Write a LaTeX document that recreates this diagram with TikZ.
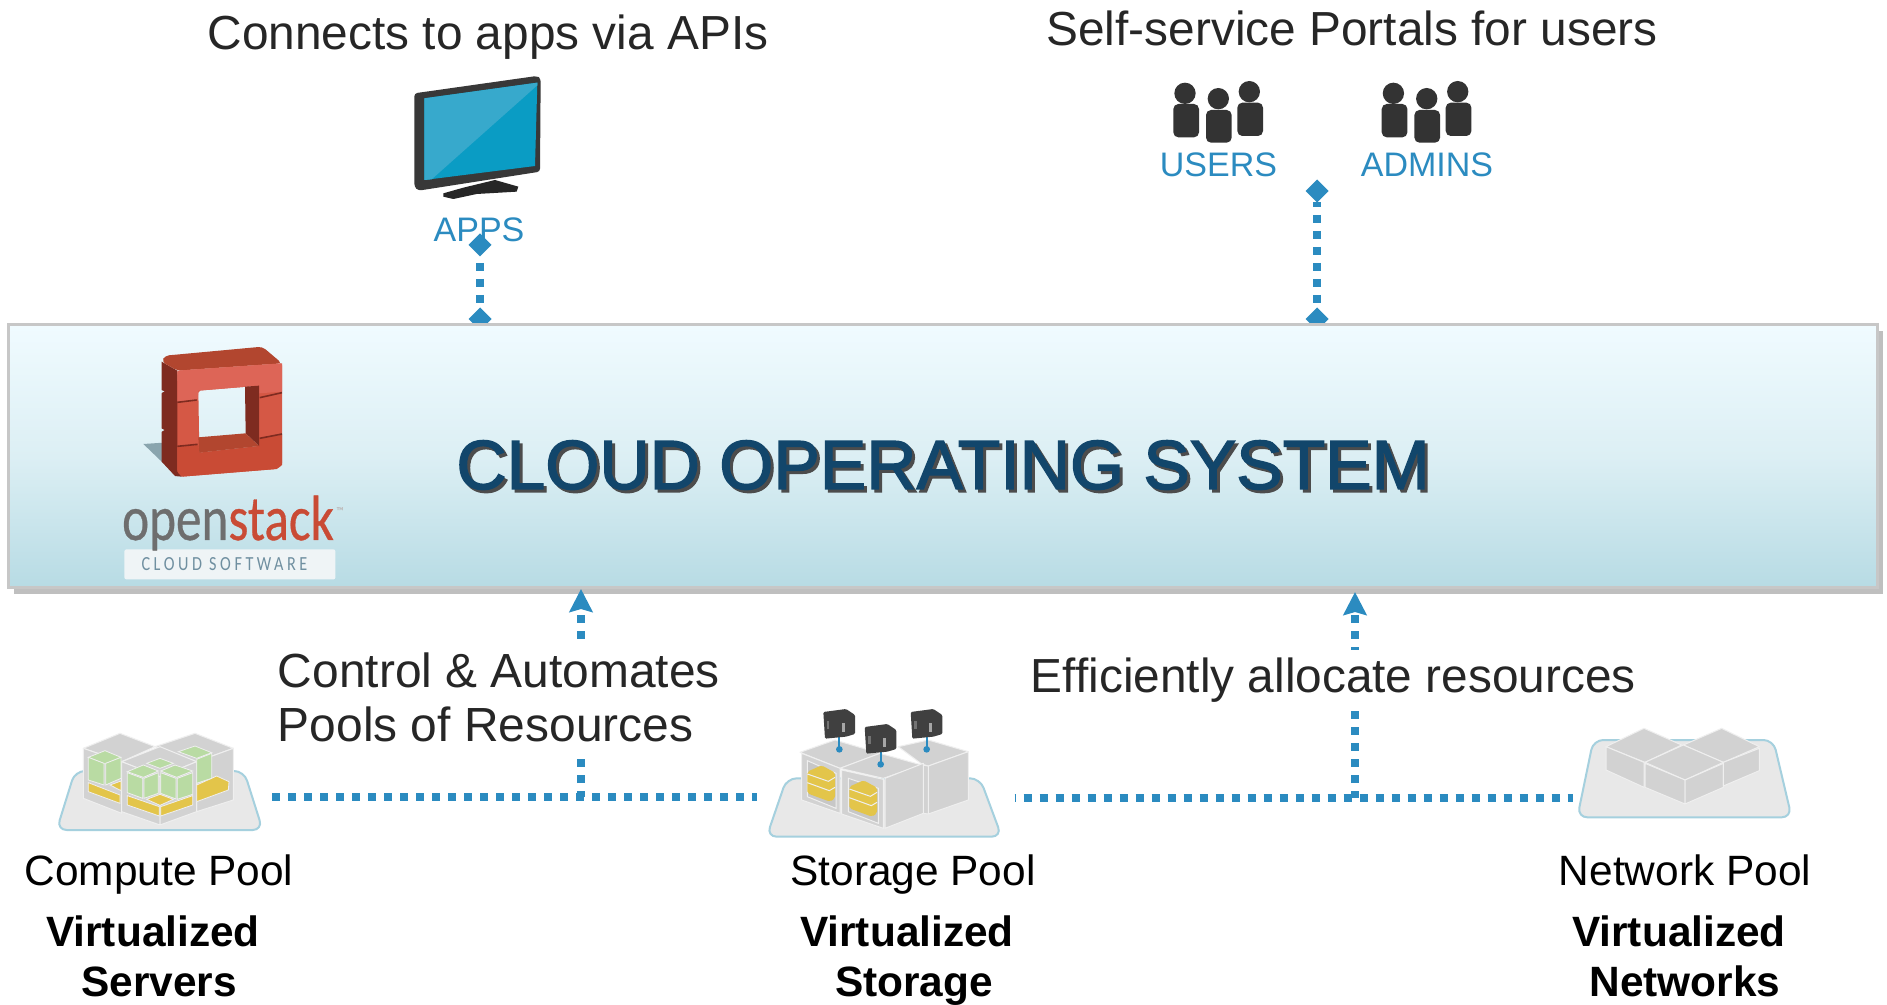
\documentclass[tikz,border=0pt]{standalone}
\usepackage{fontspec}
\setmainfont{Liberation Sans}
\newfontfamily\logofont[FakeBold=.6]{Carlito}
\newfontfamily\logospaced[LetterSpace=22]{Carlito}
\newfontfamily\titlefont[FakeBold=2]{Liberation Sans}
\usetikzlibrary{arrows.meta,shapes.geometric}
\pgfdeclarelayer{back}
\pgfsetlayers{back,main}
\definecolor{linkblue}{HTML}{2B8BC0}
\definecolor{inktext}{HTML}{262626}
\definecolor{titleblue}{HTML}{12466B}
\definecolor{cubegray}{HTML}{D2D2D2}
\definecolor{cubeedge}{HTML}{EFEFEF}
\definecolor{cubegreen}{HTML}{B9DBA3}
\definecolor{cubeyellow}{HTML}{E3C54A}
\definecolor{osdark}{HTML}{7E2B20}
\definecolor{osmid}{HTML}{B2462F}
\definecolor{osface}{HTML}{D55845}
\definecolor{oslight}{HTML}{DD6557}
\definecolor{oslow}{HTML}{C94B35}
\definecolor{paneltop}{HTML}{F0FBFF}
\definecolor{panelmid}{HTML}{DCEFF4}
\definecolor{panelbot}{HTML}{B7DBE4}
\definecolor{scrA}{HTML}{37A9CC}
\definecolor{scrB}{HTML}{0A9CC4}
\definecolor{logoshadow}{HTML}{8AA5AE}
\definecolor{chipfill}{HTML}{EFF4F6}
\definecolor{chiptext}{HTML}{6F8FA0}
\definecolor{opengray}{HTML}{6E6E6E}
\definecolor{platedge}{HTML}{A5D0DE}
\tikzset{
  zoomed/.style={x=0.16667pt,y=-0.16667pt},
  bigtext/.style={font=\fontsize{23.9}{27}\selectfont,text=inktext,inner sep=0pt},
  pooltext/.style={font=\fontsize{21.2}{25}\selectfont,text=black,anchor=base,inner sep=0pt},
  poolbold/.style={font=\fontsize{21.2}{25}\selectfont\bfseries,text=black,anchor=base,inner sep=0pt},
  bluetext/.style={font=\fontsize{17}{20}\selectfont,text=linkblue,anchor=base,inner sep=0pt},
  jointdiamond/.style={diamond,fill=linkblue,inner sep=0pt,outer sep=0pt,minimum width=11.5pt,minimum height=11.5pt},
  dotsv/.style={draw=linkblue,line width=4pt,dash pattern=on 4pt off 4pt},
  dotsa/.style={draw=linkblue,line width=3.75pt,dash pattern=on 3.75pt off 4.25pt},
  dotsb/.style={draw=linkblue,line width=3.6pt,dash pattern=on 4pt off 4pt},
  uptip/.style={-{Stealth[length=11.5pt,width=11.5pt,inset=1.5pt,color=linkblue]}},
  platform/.style={fill=black!9,draw=platedge,line width=1pt,rounded corners=5pt},
  cubeface/.style={fill=cubegray,draw=cubeedge,line width=.5pt,line join=round},
  greenface/.style={fill=cubegreen,draw=cubeedge,line width=.4pt},
  yellowface/.style={fill=cubeyellow,draw=cubeedge,line width=.4pt},
  people/.pic={
    \fill[black!80] (195,100) circle (32);
    \fill[black!80,rounded corners=2.5pt] (160,132) rectangle (237,232);
    \fill[black!80] (295,116) circle (32);
    \fill[black!80,rounded corners=2.5pt] (258,150) rectangle (335,248);
    \fill[black!80] (388,95) circle (32);
    \fill[black!80,rounded corners=2.5pt] (352,128) rectangle (429,228);
  }
}
\begin{document}
\begin{tikzpicture}[x=0.5pt,y=-0.5pt]
\useasboundingbox (0,0) rectangle (1887,1005);
\begin{pgfonlayer}{back}
  \fill[white] (0,0) rectangle (1887,1005);
\end{pgfonlayer}

% main panel
\node[anchor=north west,minimum width=934.5pt,minimum height=131.5pt,inner sep=0pt,outer sep=0pt,
      top color=paneltop,bottom color=panelbot,middle color=panelmid,draw=black!22,line width=1.5pt] (os) at (8,325) {};

% titles and labels
\node[bigtext,anchor=base] (apiT) at (488,50) {Connects to apps via APIs};
\node[bigtext,anchor=base] (portT) at (1352,46) {Self-service Portals for users};
\node[bluetext] (appsL) at (479,242) {APPS};
\node[bluetext] (usersL) at (1218.5,177) {USERS};
\node[bluetext] (adminsL) at (1427,177) {ADMINS};
\node[font=\titlefont\fontsize{34.8}{40}\selectfont,text=black!70,anchor=base,inner sep=0pt] (titleS) at (946,492) {CLOUD OPERATING SYSTEM};
\node[font=\titlefont\fontsize{34.8}{40}\selectfont,text=titleblue,anchor=base,inner sep=0pt] (title) at (943,489) {CLOUD OPERATING SYSTEM};

\node[bigtext,font=\fontsize{23.95}{27}\selectfont,anchor=north west,align=left,fill=white,inner xsep=0pt,inner ysep=4pt] (ctrl) at (277.5,644) {Control \& Automates\\Pools of Resources\rule[-3pt]{0pt}{0pt}};
\node[bigtext,anchor=base west,fill=white,inner xsep=0pt,inner ysep=4.25pt] (effic) at (1030.5,693) {Efficiently allocate resources};

\node[pooltext] (computeL) at (159,885) {Compute Pool};
\node[pooltext] (storageL) at (913,885) {Storage Pool};
\node[pooltext] (networkL) at (1685,885) {Network Pool};
\node[poolbold] (v1) at (153,946) {Virtualized};
\node[poolbold] (s1) at (159,996) {Servers};
\node[poolbold] (v2) at (907,946) {Virtualized};
\node[poolbold] (s2) at (914,996) {Storage};
\node[poolbold] (v3) at (1679,946) {Virtualized};
\node[poolbold] (s3) at (1685,996) {Networks};

% connectors
\coordinate (h1a) at (272,797);
\coordinate (h1b) at (757,797);
\coordinate (j1) at (581,797);
\coordinate (t1) at (581,589);
\coordinate (h2a) at (1014.5,798);
\coordinate (h2b) at (1573,798);
\coordinate (j2) at (1355,798);
\coordinate (t2) at (1355,592);
\begin{pgfonlayer}{back}
  \fill[black!25] (14,331) rectangle (1883,594);
  \node[jointdiamond] (d1t) at (480,245) {};
  \node[jointdiamond] (d1b) at (480,319) {};
  \node[jointdiamond] (d2t) at (1317,191) {};
  \node[jointdiamond] (d2b) at (1317,319) {};
  \draw[dotsv,dash phase=4.75pt] (d1t) -- (d1b);
  \draw[dotsv,dash phase=1.75pt] (d2t) -- (d2b);
  \draw[dotsa] (h1a) -- (h1b);
  \draw[dotsb,dash phase=3.4pt] (h2a) -- (h2b);
  \draw[dotsv,uptip,dash phase=1pt] (j1) -- (t1);
  \draw[dotsv,uptip,dash phase=.5pt] (j2) -- (t2);
\end{pgfonlayer}

% monitor
\begin{scope}[shift={(380,60)},zoomed]
  \fill[black!78,rounded corners=1.5pt] (103,100) -- (470,48) -- (482,55) -- (480,335) -- (115,392) -- (103,380) -- cycle;
  \fill[black!85] (190,400) -- (250,383) -- (345,360) -- (415,380) -- (410,395) -- (290,402) -- (220,417) -- (190,410) -- cycle;
  \fill[scrB] (133,115) -- (472,68) -- (465,318) -- (133,360) -- cycle;
  \fill[scrA] (133,115) -- (472,68) -- (472,76) -- (155,358) -- (133,360) -- cycle;
\end{scope}

% people
\begin{scope}[shift={(1120,60)},zoomed]
  \pic {people};
  \pic[xshift=104.2pt] {people};
\end{scope}

% OpenStack logo
\begin{scope}[shift={(100,330)},zoomed]
  \fill[logoshadow] (130,342) -- (190,338) -- (190,400) -- (232,440) -- cycle;
  \fill[osdark] (185,95) -- (232,122) -- (245,440) -- (225,438) -- (185,395) -- cycle;
  \fill[osmid,rounded corners=2pt] (185,95) -- (195,77) -- (487,50) -- (546,100) -- (232,122) -- cycle;
  \fill[osface,even odd rule,rounded corners=1pt] (232,122) -- (546,100) -- (546,405) -- (530,417) -- (245,440) -- (232,425) -- cycle
     (295,182) -- (477,167) -- (477,348) -- (298,368) -- cycle;
  \fill[oslight] (232,122) -- (546,100) -- (546,185) -- (477,190) -- (477,167) -- (295,182) -- (293,208) -- (232,215) -- cycle;
  \fill[oslow] (232,350) -- (295,345) -- (298,368) -- (477,348) -- (477,322) -- (546,315) -- (546,405) -- (530,417) -- (245,440) -- (232,425) -- cycle;
  \fill[osdark] (435,170) -- (477,167) -- (477,348) -- (437,310) -- cycle;
  \fill[osmid] (295,322) -- (437,310) -- (477,348) -- (298,368) -- cycle;
  \draw[osdark,line width=.8pt] (232,217) -- (290,210);
  \draw[osdark,line width=.8pt] (232,349) -- (293,343);
  \draw[osdark,line width=.8pt] (479,203) -- (546,188);
  \draw[osdark,line width=.8pt] (479,325) -- (546,312);
  \fill[panelmid] (183,180) -- (193,184) -- (183,190) -- cycle;
  \fill[panelmid] (183,295) -- (193,300) -- (183,306) -- cycle;
\end{scope}
\node[fill=chipfill,rounded corners=1pt,minimum width=105.5pt,minimum height=15pt,inner sep=0pt,anchor=north west] (chip) at (124,549) {};
\node[font=\logospaced\fontsize{10}{11}\selectfont,text=chiptext,inner sep=0pt,xscale=.81] (chipT) at (224.5,564) {CLOUD SOFTWARE};
\node[font=\logofont\fontsize{32}{36}\selectfont,anchor=base,inner sep=0pt,xscale=.8] (logoT) at (228,540) {\textcolor{opengray}{open}\textcolor{oslow}{stack}};
\node[font=\logofont\fontsize{5}{6}\selectfont,text=black!25,anchor=base west,inner sep=0pt] (logoTM) at (336,514) {™};

% compute pool
\begin{scope}[shift={(40,700)},zoomed]
  \draw[platform] (105,213) -- (612,213) -- (668,390) -- (50,390) -- cycle;
  \draw[cubeface] (130,145) -- (240,100) -- (345,140) -- (245,185) -- cycle;
  \draw[cubeface] (130,145) -- (245,185) -- (245,340) -- (130,295) -- cycle;
  \draw[cubeface] (345,140) -- (465,100) -- (580,145) -- (470,185) -- cycle;
  \draw[cubeface] (470,185) -- (580,145) -- (580,300) -- (470,335) -- cycle;
  \draw[cubeface] (245,185) -- (360,140) -- (470,185) -- (360,230) -- cycle;
  \draw[cubeface] (245,185) -- (360,230) -- (360,375) -- (245,335) -- cycle;
  \draw[cubeface] (360,230) -- (470,185) -- (470,335) -- (360,375) -- cycle;
  \draw[yellowface] (145,248) -- (240,285) -- (240,310) -- (145,275) -- cycle;
  \draw[yellowface] (210,255) -- (243,243) -- (243,272) -- cycle;
  \draw[yellowface] (470,255) -- (530,228) -- (567,245) -- (565,270) -- (470,305) -- cycle;
  \draw[greenface] (145,172) -- (195,152) -- (243,172) -- (195,192) -- cycle;
  \draw[greenface] (145,172) -- (192,190) -- (192,255) -- (145,240) -- cycle;
  \draw[greenface] (197,190) -- (243,172) -- (243,235) -- (197,255) -- cycle;
  \draw[greenface] (415,155) -- (465,138) -- (515,158) -- (470,175) -- cycle;
  \draw[greenface] (470,178) -- (515,160) -- (515,235) -- (470,250) -- cycle;
  \draw[yellowface] (262,287) -- (358,320) -- (358,348) -- (262,315) -- cycle;
  \draw[yellowface] (362,320) -- (458,287) -- (458,315) -- (362,348) -- cycle;
  \draw[yellowface] (320,298) -- (360,283) -- (400,298) -- (360,316) -- cycle;
  \draw[greenface] (320,190) -- (360,175) -- (400,190) -- (360,205) -- cycle;
  \draw[greenface] (262,215) -- (310,195) -- (355,213) -- (310,232) -- cycle;
  \draw[greenface] (262,218) -- (308,235) -- (308,295) -- (262,278) -- cycle;
  \draw[greenface] (312,235) -- (355,218) -- (355,280) -- (312,295) -- cycle;
  \draw[greenface] (362,213) -- (405,195) -- (458,213) -- (410,232) -- cycle;
  \draw[greenface] (362,218) -- (408,235) -- (408,297) -- (362,280) -- cycle;
  \draw[greenface] (412,235) -- (458,218) -- (458,283) -- (412,298) -- cycle;
\end{scope}

% storage pool
\begin{scope}[shift={(750,690)},zoomed]
  \draw[platform] (110,265) -- (690,265) -- (755,440) -- (50,440) -- cycle;
  \draw[cubeface] (150,187) -- (255,150) -- (390,190) -- (270,235) -- cycle;
  \draw[cubeface] (155,190) -- (270,235) -- (270,370) -- (155,330) -- cycle;
  \draw[cubeface] (445,170) -- (535,150) -- (655,185) -- (535,228) -- (515,222) -- cycle;
  \draw[cubeface] (535,228) -- (655,185) -- (655,330) -- (535,372) -- cycle;
  \draw[cubeface] (515,225) -- (535,228) -- (535,372) -- (520,370) -- cycle;
  \draw[cubeface] (270,235) -- (390,190) -- (515,225) -- (400,265) -- cycle;
  \draw[cubeface] (275,240) -- (400,268) -- (400,415) -- (275,372) -- cycle;
  \draw[cubeface] (405,265) -- (520,220) -- (520,370) -- (405,415) -- cycle;
  \draw[fill=black!22,draw=cubeedge,line width=.5pt] (172,212) -- (258,250) -- (258,355) -- (172,320) -- cycle;
  \draw[fill=black!22,draw=cubeedge,line width=.5pt] (295,265) -- (385,295) -- (385,400) -- (295,365) -- cycle;
  \foreach \sx/\sy in {0/0,126/45}{
    \fill[cubeyellow,rounded corners=1pt] (172+\sx,245+\sy) -- (215+\sx,226+\sy) -- (255+\sx,248+\sy) -- (255+\sx,325+\sy) -- (240+\sx,335+\sy) -- (172+\sx,310+\sy) -- cycle;
    \draw[cubeedge,line width=.5pt] (172+\sx,252+\sy) -- (235+\sx,274+\sy) -- (255+\sx,262+\sy);
    \draw[cubeedge,line width=.5pt] (172+\sx,278+\sy) -- (238+\sx,302+\sy) -- (255+\sx,292+\sy);
  }
  \foreach \ox/\oy in {268/0,392/45,530/0}{
    \draw[linkblue,line width=.9pt] (\ox,140+\oy) -- (\ox,178+\oy);
    \fill[linkblue] (\ox,178+\oy) circle (10);
    \fill[black!75,rounded corners=.6pt] (\ox-48,66+\oy) -- (\ox+20,57+\oy) -- (\ox+47,75+\oy) -- (\ox+47,132+\oy) -- (\ox+20,140+\oy) -- (\ox-43,146+\oy) -- cycle;
    \fill[black!35] (\ox+8,98+\oy) rectangle (\ox+17,125+\oy);
    \fill[black!55] (\ox-38,92+\oy) rectangle (\ox-30,118+\oy);
  }
\end{scope}

% network pool
\begin{scope}[shift={(1560,700)},zoomed]
  \draw[platform] (100,120) -- (640,120) -- (695,352) -- (52,352) -- cycle;
  \draw[cubeface] (138,140) -- (252,85) -- (365,135) -- (255,187) -- cycle;
  \draw[cubeface] (370,135) -- (485,85) -- (598,140) -- (490,187) -- cycle;
  \draw[cubeface] (255,187) -- (370,135) -- (490,187) -- (375,240) -- cycle;
  \draw[cubeface] (138,140) -- (252,187) -- (252,262) -- (138,210) -- cycle;
  \draw[cubeface] (255,190) -- (375,240) -- (375,312) -- (255,262) -- cycle;
  \draw[cubeface] (375,240) -- (490,190) -- (490,262) -- (375,312) -- cycle;
  \draw[cubeface] (490,187) -- (598,145) -- (598,212) -- (490,258) -- cycle;
\end{scope}
\end{tikzpicture}
\end{document}
